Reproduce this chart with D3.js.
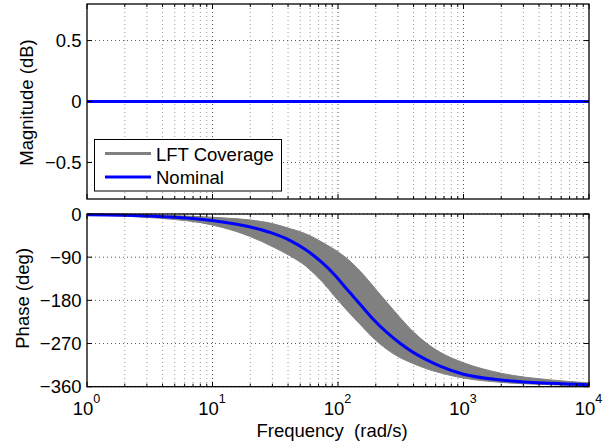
<!DOCTYPE html>
<html>
<head>
<meta charset="utf-8">
<script src="https://cdn.jsdelivr.net/npm/d3@7"></script>
<style>
  body { margin: 0; background: #fff; }
  svg { display: block; font-family: "Liberation Sans", Arial, sans-serif; }
</style>
</head>
<body>
<script>
// frequencies (rad/s)
var freq = [1, 2, 3, 5, 8, 12, 20, 30, 42, 55, 65, 76, 95, 117, 150, 190, 245, 310, 400, 500, 650, 1000, 2000, 5000, 10000];
// phase (deg): nominal and the two edges of the LFT coverage band
var phaseNominal = [-1.3, -2.7, -4.2, -7, -11, -16.5, -27, -40, -56, -74, -88, -103, -128, -156, -188, -219, -247, -269, -289, -303, -317, -334, -346, -353, -356];
var phaseUpper   = [-0.6, -1.2, -2, -3.3, -5.5, -8, -12.5, -20, -31, -41, -50, -60, -75, -92, -119, -150, -184, -215, -246, -268, -288, -310, -332, -346, -352];
var phaseLower   = [-2, -4.5, -7, -11.5, -18, -28, -47, -68, -88, -108, -125, -143, -173, -200, -230, -258, -282, -299, -312, -322, -331, -342, -351, -356, -359];
// magnitude (dB)
var magFreq = [1, 10000];
var magNominal = [0, 0];

var magTicks = [0.5, 0, -0.5];
var phaseTicks = [0, -90, -180, -270, -360];
var decades = [0, 1, 2, 3, 4];
var legendLabels = ["LFT Coverage", "Nominal"];

var W = 605, H = 447;
var left = 87, right = 589;
var magTop = 4, magBot = 199;
var phTop = 214, phBot = 386.7;
var grey = "#808080", blue = "#0000ff";
var fs = 18.5;

var svg = d3.select("body").append("svg")
  .attr("width", W).attr("height", H);

var x = d3.scaleLog().domain([1, 10000]).range([left, right]);
var yMag = d3.scaleLinear().domain([-0.8, 0.8]).range([magBot, magTop]);
var yPh = d3.scaleLinear().domain([-360, 0]).range([phBot, phTop]);

// minor ticks 2..9 in each decade
var minor = [];
decades.slice(0, 4).forEach(function(d) {
  for (var k = 2; k <= 9; k++) minor.push(k * Math.pow(10, d));
});
var major = decades.map(function(d) { return Math.pow(10, d); });

function drawGrid(yScale, top, bot, yt) {
  var g = svg.append("g");
  g.selectAll(".vm").data(minor).enter().append("line")
    .attr("x1", function(d) { return x(d); }).attr("x2", function(d) { return x(d); })
    .attr("y1", top).attr("y2", bot)
    .attr("stroke", "#9a9a9a").attr("stroke-width", 1).attr("stroke-dasharray", "1,3");
  g.selectAll(".vM").data(major.slice(1, 4)).enter().append("line")
    .attr("x1", function(d) { return x(d); }).attr("x2", function(d) { return x(d); })
    .attr("y1", top).attr("y2", bot)
    .attr("stroke", "#555").attr("stroke-width", 1).attr("stroke-dasharray", "1,3");
  g.selectAll(".h").data(yt).enter().append("line")
    .attr("x1", left).attr("x2", right)
    .attr("y1", function(d) { return yScale(d); }).attr("y2", function(d) { return yScale(d); })
    .attr("stroke", "#555").attr("stroke-width", 1).attr("stroke-dasharray", "1,3");
}

function drawBox(yScale, top, bot, yt, labels) {
  var g = svg.append("g");
  // ticks point inward, on all four sides
  minor.forEach(function(d) {
    g.append("line").attr("x1", x(d)).attr("x2", x(d)).attr("y1", bot).attr("y2", bot - 3).attr("stroke", "#000");
    g.append("line").attr("x1", x(d)).attr("x2", x(d)).attr("y1", top).attr("y2", top + 3).attr("stroke", "#000");
  });
  major.forEach(function(d) {
    g.append("line").attr("x1", x(d)).attr("x2", x(d)).attr("y1", bot).attr("y2", bot - 5).attr("stroke", "#000");
    g.append("line").attr("x1", x(d)).attr("x2", x(d)).attr("y1", top).attr("y2", top + 5).attr("stroke", "#000");
  });
  yt.forEach(function(d) {
    g.append("line").attr("x1", left).attr("x2", left + 5).attr("y1", yScale(d)).attr("y2", yScale(d)).attr("stroke", "#000");
    g.append("line").attr("x1", right).attr("x2", right - 5).attr("y1", yScale(d)).attr("y2", yScale(d)).attr("stroke", "#000");
  });
  g.append("rect").attr("x", left).attr("y", top)
    .attr("width", right - left).attr("height", bot - top)
    .attr("fill", "none").attr("stroke", "#000").attr("stroke-width", 1.3);
  g.selectAll(".yl").data(yt).enter().append("text")
    .attr("x", left - 5.5).attr("y", function(d) { return yScale(d) + 6.5; })
    .attr("text-anchor", "end").attr("font-size", fs)
    .text(function(d, i) { return labels[i]; });
}

function fmt(v) { return v < 0 ? "\u2212" + Math.abs(v) : "" + v; }

// ---- magnitude panel
drawGrid(yMag, magTop, magBot, magTicks);
var magLine = d3.line().x(function(d, i) { return x(magFreq[i]); }).y(function(d) { return yMag(d); });
svg.append("path").datum(magNominal).attr("d", magLine)
  .attr("fill", "none").attr("stroke", grey).attr("stroke-width", 3);
svg.append("path").datum(magNominal).attr("d", magLine)
  .attr("fill", "none").attr("stroke", blue).attr("stroke-width", 3);
drawBox(yMag, magTop, magBot, magTicks, magTicks.map(fmt));

// legend
var lg = svg.append("g");
lg.append("rect").attr("x", 94.5).attr("y", 139.5).attr("width", 187).attr("height", 51.5)
  .attr("fill", "#fff").attr("stroke", "#000").attr("stroke-width", 1);
legendLabels.forEach(function(lab, i) {
  var yy = 153.5 + i * 23.5;
  lg.append("line").attr("x1", 105).attr("x2", 151).attr("y1", yy).attr("y2", yy)
    .attr("stroke", i === 0 ? grey : blue).attr("stroke-width", 3);
  lg.append("text").attr("x", 156).attr("y", yy + 7).attr("font-size", fs).text(lab);
});

// ---- phase panel
drawGrid(yPh, phTop, phBot, phaseTicks);
var band = d3.area()
  .x(function(d, i) { return x(freq[i]); })
  .y0(function(d, i) { return yPh(phaseLower[i]); })
  .y1(function(d, i) { return yPh(phaseUpper[i]); })
  .curve(d3.curveMonotoneX);
svg.append("path").datum(freq).attr("d", band).attr("fill", grey).attr("stroke", grey).attr("stroke-width", 1);
var nomLine = d3.line().x(function(d, i) { return x(freq[i]); }).y(function(d) { return yPh(d); })
  .curve(d3.curveMonotoneX);
svg.append("path").datum(phaseNominal).attr("d", nomLine)
  .attr("fill", "none").attr("stroke", blue).attr("stroke-width", 3);
drawBox(yPh, phTop, phBot, phaseTicks, phaseTicks.map(fmt));

// x tick labels 10^n
decades.forEach(function(d) {
  var t = svg.append("text").attr("x", x(Math.pow(10, d)) - 0.5).attr("y", 415)
    .attr("text-anchor", "middle").attr("font-size", fs);
  t.append("tspan").text("10");
  t.append("tspan").attr("dy", -12).attr("font-size", 12.5).text(d);
});

// axis labels
svg.append("text").attr("x", 332).attr("y", 436.5).attr("text-anchor", "middle")
  .attr("font-size", fs).attr("xml:space", "preserve").text("Frequency  (rad/s)");
svg.append("text").attr("transform", "translate(33," + ((magTop + magBot) / 2 + 1) + ") rotate(-90)")
  .attr("text-anchor", "middle").attr("font-size", fs).text("Magnitude (dB)");
svg.append("text").attr("transform", "translate(29," + ((phTop + phBot) / 2 - 2) + ") rotate(-90)")
  .attr("text-anchor", "middle").attr("font-size", fs).text("Phase (deg)");
</script>
</body>
</html>
